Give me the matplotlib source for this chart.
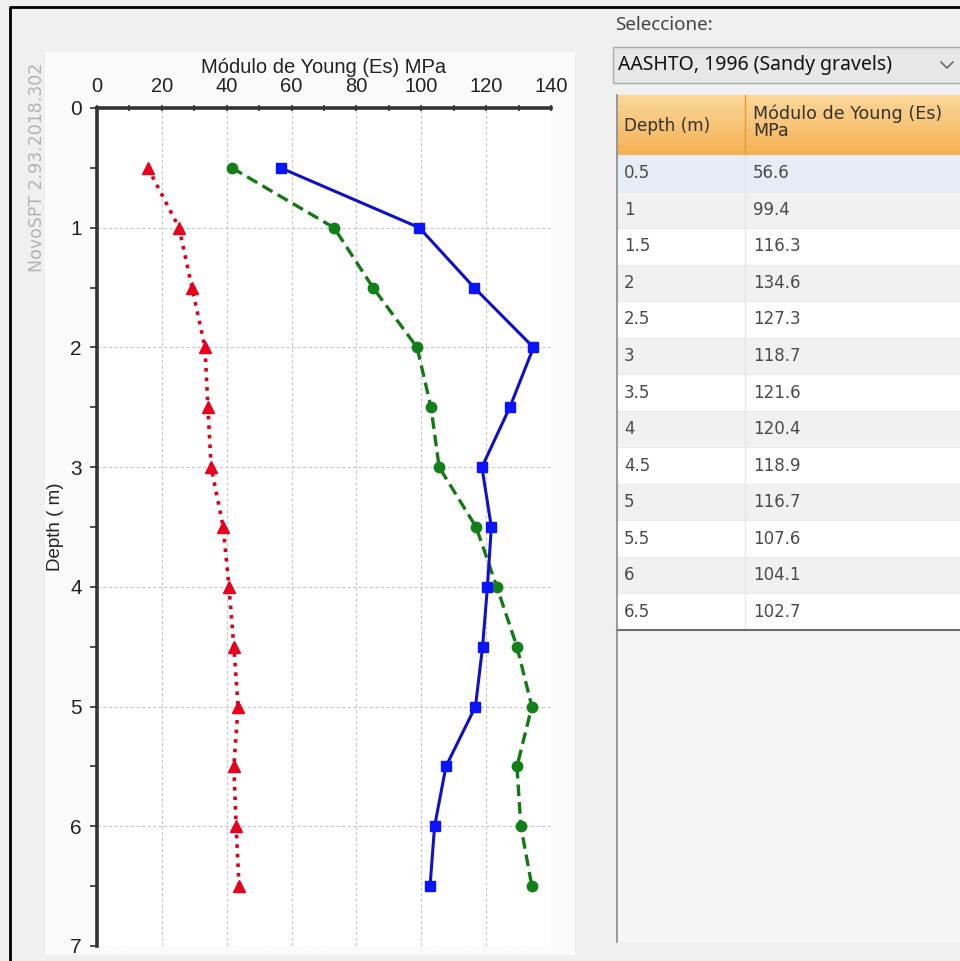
import matplotlib
matplotlib.use("Agg")
import matplotlib.pyplot as plt
from matplotlib.patches import Rectangle
from matplotlib.ticker import MultipleLocator

# data
depth = [0.5, 1, 1.5, 2, 2.5, 3, 3.5, 4, 4.5, 5, 5.5, 6, 6.5]
es_blue = [56.6, 99.4, 116.3, 134.6, 127.3, 118.7, 121.6, 120.4, 118.9, 116.7, 107.6, 104.1, 102.7]
es_green = [41.6, 73.1, 85.1, 98.7, 103.0, 105.5, 116.9, 123.3, 129.5, 134.1, 129.5, 130.7, 134.1]
es_red = [15.7, 25.3, 29.3, 33.3, 34.2, 35.2, 38.9, 40.7, 42.2, 43.5, 42.2, 42.9, 43.8]
x_ticks = [0, 20, 40, 60, 80, 100, 120, 140]
y_ticks = [0, 1, 2, 3, 4, 5, 6, 7]
method = "AASHTO, 1996 (Sandy gravels)"
col_headers = ["Depth (m)", "Módulo de Young (Es)\nMPa"]

W, H = 960, 961
fig = plt.figure(figsize=(W / 100, H / 100), dpi=100, facecolor="#f0f0f0")

# background layer in pixel coordinates
bg = fig.add_axes([0, 0, 1, 1])
bg.set_xlim(0, W)
bg.set_ylim(H, 0)
bg.axis("off")

# window frame
bg.plot([10, 10, W], [H, 7, 7], color="black", lw=2, solid_capstyle="butt")
# chart panel
bg.add_patch(Rectangle((45, 52), 530, 903, facecolor="#fbfbfb", edgecolor="none"))
bg.text(37, 63, "NovoSPT 2.93.2018.302", rotation=90, ha="center", va="top",
        color="#b2b2b2", fontsize=12.5, family="DejaVu Sans")

# right side: selector
bg.text(615, 25, "Seleccione:", ha="left", va="center", fontsize=13.5,
        color="#444444", family="Noto Sans")
bg.add_patch(Rectangle((613, 47), 360, 36, facecolor="#e7e7e7", edgecolor="#acacac", lw=1))
bg.text(618, 65, method, ha="left", va="center", fontsize=14, color="#111111",
        family="Noto Sans")
bg.plot([941, 947, 953], [62, 68, 62], color="#555555", lw=1)

# table
tx0, tx1, tdiv = 617, W, 745
head_top, head_bot = 95, 155
row_h = (630 - head_bot) / len(depth)
bg.add_patch(Rectangle((tx0, head_bot), tx1 - tx0, 942 - head_bot, facecolor="#f5f5f5",
                       edgecolor="none"))
steps = 12
for k in range(steps):
    t = k / (steps - 1)
    c1 = (0xfb / 255, 0xd6 / 255, 0x98 / 255)
    c2 = (0xf5 / 255, 0xb2 / 255, 0x55 / 255)
    col = tuple(a + (b - a) * t for a, b in zip(c1, c2))
    hh = (head_bot - head_top) / steps
    bg.add_patch(Rectangle((tx0, head_top + k * hh), tx1 - tx0, hh + 0.5,
                           facecolor=col, edgecolor="none"))
bg.plot([tdiv, tdiv], [head_top, head_bot], color="#e59a3a", lw=1)
bg.text(tx0 + 7, 126, col_headers[0], ha="left", va="center",
        fontsize=12.2, color="#333333", family="DejaVu Sans")
bg.text(tdiv + 8, 122, col_headers[1], ha="left", va="center",
        fontsize=12.6, color="#333333", family="DejaVu Sans", linespacing=0.95)

for i, (d, v) in enumerate(zip(depth, es_blue)):
    y0 = head_bot + i * row_h
    if i == 0:
        fc = "#e6edf7"
    elif i % 2 == 1:
        fc = "#f1f1f1"
    else:
        fc = "#ffffff"
    bg.add_patch(Rectangle((tx0, y0), tx1 - tx0, row_h, facecolor=fc, edgecolor="none"))
    bg.plot([tx0, tx1], [y0 + row_h, y0 + row_h], color="#ebebeb", lw=0.8)
    bg.text(tx0 + 7, y0 + row_h / 2, f"{d:g}", ha="left", va="center",
            fontsize=12, color="#4a4a4a", family="DejaVu Sans")
    bg.text(tdiv + 8, y0 + row_h / 2, f"{v:.1f}", ha="left", va="center",
            fontsize=12, color="#4a4a4a", family="DejaVu Sans")
bg.plot([tdiv, tdiv], [head_bot, 630], color="#e6e6e6", lw=1)
bg.plot([tx0, tx1], [630, 630], color="#6e6e6e", lw=1.5)
bg.plot([tx0, tx0], [head_top, 942], color="#8a8a8a", lw=1.2)

# chart
ax = fig.add_axes([97 / W, 1 - 946 / H, 454 / W, 838 / H])
ax.set_facecolor("white")
ax.plot(es_red, depth, ls=":", color="#e0001b", lw=2.6, marker="^", ms=8,
        markerfacecolor="#e8001c", markeredgecolor="#e8001c")
ax.plot(es_green, depth, ls="--", color="#137a13", lw=2.4, marker="o", ms=7.5,
        markerfacecolor="#12801a", markeredgecolor="#12801a", dashes=(3.5, 1.8))
ax.plot(es_blue, depth, ls="-", color="#1010cc", lw=2.2, marker="s", ms=7.5,
        markerfacecolor="#0a14ff", markeredgecolor="#0a14ff")

ax.set_xlim(0, 140)
ax.set_ylim(7, 0)
ax.xaxis.tick_top()
ax.xaxis.set_label_position("top")
ax.set_xticks(x_ticks)
ax.set_yticks(y_ticks)
ax.xaxis.set_minor_locator(MultipleLocator(10))
ax.yaxis.set_minor_locator(MultipleLocator(0.5))
ax.tick_params(axis="x", which="both", direction="inout", length=5, width=1.2,
               color="#333333", labelsize=14.5, pad=6)
ax.tick_params(axis="y", which="both", direction="out", length=5, width=1.2,
               color="#333333", labelsize=15, pad=6)
for lab in ax.get_xticklabels() + ax.get_yticklabels():
    lab.set_family("Liberation Sans")
    lab.set_color("#222222")
ax.set_xlabel("Módulo de Young (Es) MPa", fontsize=14.5, family="Liberation Sans",
              color="#222222", labelpad=3)
ax.set_ylabel("Depth ( m)", fontsize=13.5, family="Liberation Sans", color="#222222",
              labelpad=4)
ax.grid(True, which="major", color="#c8c8c8", ls=(0, (3, 2)), lw=0.8)
for s in ["right", "bottom"]:
    ax.spines[s].set_visible(False)
for s in ["left", "top"]:
    ax.spines[s].set_linewidth(2.6)
    ax.spines[s].set_color("#333333")

fig.savefig("out.png", dpi=100, facecolor=fig.get_facecolor())
